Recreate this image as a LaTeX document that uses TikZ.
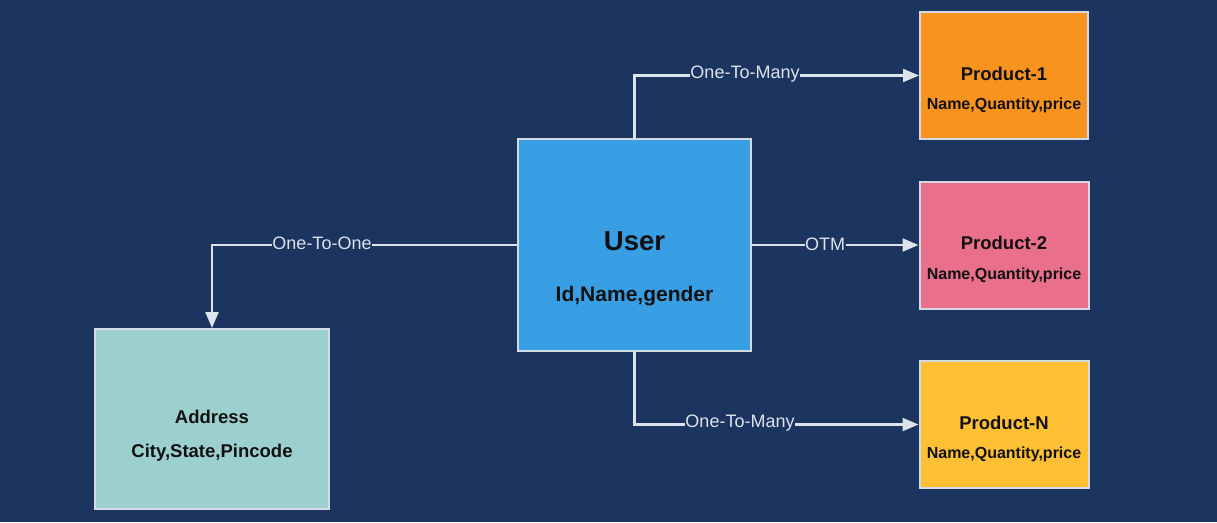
\documentclass[tikz,border=0pt]{standalone}
\usepackage{fontspec}
\setmainfont{Liberation Sans}
\usetikzlibrary{arrows.meta}
\definecolor{bg}{HTML}{1B3460}
\definecolor{userc}{HTML}{389FE5}
\definecolor{orangec}{HTML}{F7931E}
\definecolor{pinkc}{HTML}{EA6F8B}
\definecolor{yellowc}{HTML}{FDBF33}
\definecolor{tealc}{HTML}{9CD0CF}
\definecolor{linec}{HTML}{DDE3EA}
\definecolor{borderc}{HTML}{D3DAE2}
\definecolor{txt}{HTML}{111111}
\tikzset{
  box/.style={draw=borderc, line width=2pt, rectangle, inner sep=0pt},
  title/.style={font=\fontsize{18.5}{20}\selectfont\bfseries, text=txt, inner sep=0pt},
  sub/.style={font=\fontsize{16}{18}\selectfont\bfseries, text=txt, inner sep=0pt},
  conn/.style={draw=linec, line width=2.2pt, -{Triangle[length=16pt,width=13pt]}},
  lbl/.style={fill=bg, text=linec, font=\fontsize{18}{20}\selectfont, inner sep=0.5pt}
}
\begin{document}
\begin{tikzpicture}[x=1pt,y=-1pt]
\fill[bg] (0,0) rectangle (1217,522);
\useasboundingbox (0,0) rectangle (1217,522);
% boxes
\node[box, fill=userc, minimum width=233pt, minimum height=212pt] (user) at (634.5,245) {};
\node[box, fill=orangec, minimum width=168pt, minimum height=127pt] (p1) at (1004,75.5) {};
\node[box, fill=pinkc, minimum width=169pt, minimum height=127pt] (p2) at (1004,245) {};
\node[box, fill=yellowc, minimum width=169pt, minimum height=127pt] (pn) at (1004,424.5) {};
\node[box, fill=tealc, minimum width=234pt, minimum height=180pt] (addr) at (212,419) {};
% texts
\node[font=\fontsize{27.5}{30}\selectfont\bfseries, text=txt, inner sep=0pt] (usert) at (634.5,241) {User};
\node[font=\fontsize{21}{23}\selectfont\bfseries, text=txt, inner sep=0pt] (users) at (634.5,296) {Id,Name,gender};
\node[title] (p1t) at (1004,74) {Product-1};
\node[sub] (p1s) at (1004,105) {Name,Quantity,price};
\node[title] (p2t) at (1004,243) {Product-2};
\node[sub] (p2s) at (1004,275) {Name,Quantity,price};
\node[title] (pnt) at (1004,423) {Product-N};
\node[sub] (pns) at (1004,454) {Name,Quantity,price};
\node[title] (addrt) at (212,417) {Address};
\node[title] (addrs) at (212,453) {City,State,Pincode};
% connectors
\draw[conn] (user.north) |- (p1.west);
\draw[conn] (user.east) -- (p2.west);
\draw[conn] (user.south) |- (pn.west);
\draw[conn] (user.west) -| (addr.north);
% labels
\node[lbl] (l1) at (745,74) {One-To-Many};
\node[lbl] (l2) at (825,244) {OTM};
\node[lbl] (l3) at (740,423) {One-To-Many};
\node[lbl] (l4) at (322,243) {One-To-One};
\end{tikzpicture}
\end{document}
